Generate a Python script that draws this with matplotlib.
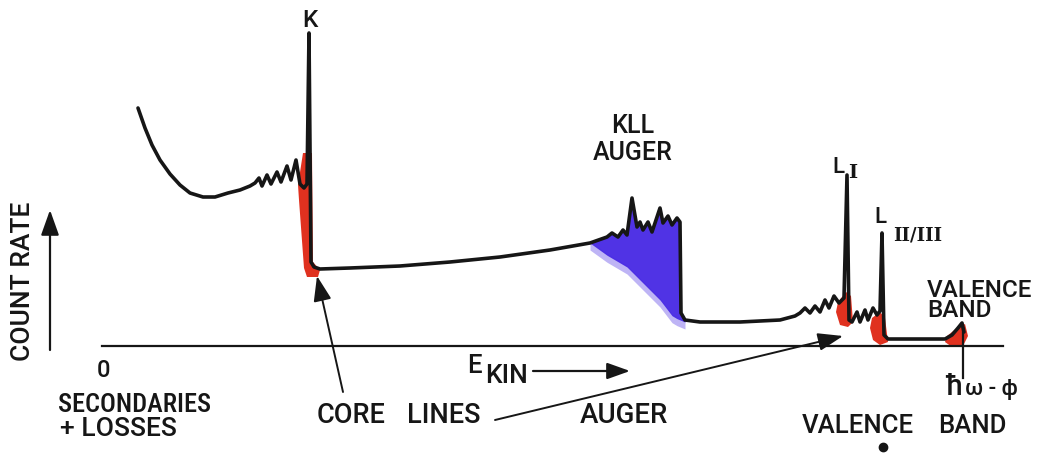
import numpy as np
import matplotlib
matplotlib.use("Agg")
import matplotlib.pyplot as plt
from matplotlib import font_manager

# Photoelectron spectrum sketch: kinetic energy vs. count rate (arbitrary units)
energy = [36, 43, 50, 58, 68, 78, 88, 101, 113, 126, 138, 148,
          153, 157, 160, 165, 169, 175, 179, 185, 189, 194, 198, 202, 205,
          207, 209, 212, 218,
          248, 298, 348, 398, 448, 488, 505, 510, 516, 521, 525, 530, 535,
          538, 541, 546, 550, 558, 561, 566, 570, 575, 578, 579, 583,
          598, 638, 678, 693,
          698, 703, 708, 713, 718, 723, 727, 732, 737, 742,
          745, 747, 750, 755, 758, 763, 766, 771, 775, 778,
          780, 782, 786, 843, 850, 856, 860, 862]
counts = [238, 218, 201, 186, 172, 161, 153, 149, 149, 153, 156, 160,
          163, 168, 160, 171, 162, 174, 164, 180, 166, 186, 162, 158, 162,
          313, 84, 79, 77,
          78, 80, 84, 89, 96, 103, 109, 113, 109, 116, 111, 148, 119,
          124, 116, 124, 114, 138, 123, 130, 121, 128, 124, 33, 26,
          24, 24, 26, 30,
          33, 38, 33, 40, 34, 46, 38, 50, 43, 48,
          171, 26, 24, 34, 24, 36, 26, 38, 31, 35,
          113, 11, 7, 7, 11, 18, 23, 14]

# Lower edge of the shaded KLL Auger band
auger_floor_e = [488, 491, 525, 545, 558, 571, 583]
auger_floor_c = [103, 99, 79, 59, 46, 29, 24]

# Highlighted core-line / valence regions (outline points, E and count rate)
core_k_e = [201, 210, 211, 218, 216, 205, 202, 197, 196]
core_k_c = [193, 193, 84, 76, 69, 69, 78, 146, 161]
core_l1_e = [736, 744, 749, 751, 746, 738, 734]
core_l1_c = [44, 54, 50, 24, 19, 21, 34]
core_l23_e = [770, 778, 783, 786, 778, 771, 768]
core_l23_c = [28, 34, 28, 4, 1, 6, 18]
valence_e = [845, 855, 863, 866, 861, 850, 843]
valence_c = [10, 18, 22, 10, 0, -1, 4]

# Photon-energy cutoff (h-bar omega minus work function)
cutoff_e = 861
axis_end_e = 901

ink = "#161616"
red = "#e0311f"
blue = "#4628e4"

names = {f.name for f in font_manager.fontManager.ttflist}


def pick(cands):
    for c in cands:
        if c in names:
            return c
    return "DejaVu Sans"


narrow = pick(["Roboto Condensed", "Liberation Sans Narrow", "DejaVu Sans"])
wide = pick(["Roboto", "DejaVu Sans"])
plt.rcParams["font.family"] = [wide, "DejaVu Sans"]

fig = plt.figure(figsize=(10.46, 4.53), dpi=100)
ax = fig.add_axes([0, 0, 1, 1])
ax.set_xlim(-102, 944)
ax.set_ylim(-107, 346)
ax.axis("off")

E = np.array(energy, dtype=float)
C = np.array(counts, dtype=float)

# KLL Auger shading between the spectrum and its lower edge
sel = (E >= auger_floor_e[0]) & (E <= auger_floor_e[-1])
floor = np.interp(E[sel], auger_floor_e, auger_floor_c)
ax.fill_between(E[sel], floor - 7, floor + 2, color=blue, alpha=0.35, lw=0,
                zorder=1)
ax.fill_between(E[sel], floor, C[sel], color=blue, alpha=0.95, lw=0, zorder=1)

# red highlights on the core lines and valence band
for xs, ys in [(core_k_e, core_k_c), (core_l1_e, core_l1_c),
               (core_l23_e, core_l23_c), (valence_e, valence_c)]:
    ax.fill(xs, ys, color=red, lw=0, zorder=2)

# spectrum trace
ax.plot(E, C, color=ink, lw=2.6, solid_joinstyle="round",
        solid_capstyle="round", zorder=3)

# energy axis and cutoff marker
ax.plot([0, axis_end_e], [0, 0], color=ink, lw=1.6, zorder=3)
ax.plot([cutoff_e, cutoff_e], [18, -32], color=ink, lw=1.6, zorder=3)

arrow_style = "-|>,head_length=0.7,head_width=0.25"
# count-rate arrow
ax.annotate("", xy=(-52, 136), xytext=(-52, -4),
            arrowprops=dict(arrowstyle=arrow_style, color=ink, lw=1.6,
                            mutation_scale=22, shrinkA=0, shrinkB=0))
# kinetic energy arrow
ax.annotate("", xy=(528, -25), xytext=(431, -25),
            arrowprops=dict(arrowstyle=arrow_style, color=ink, lw=1.6,
                            mutation_scale=20, shrinkA=0, shrinkB=0))
# core-line pointers
ax.annotate("", xy=(215, 70), xytext=(241, -46),
            arrowprops=dict(arrowstyle=arrow_style, color=ink, lw=1.4,
                            mutation_scale=22, shrinkA=0, shrinkB=0))
ax.annotate("", xy=(741, 10), xytext=(393, -74),
            arrowprops=dict(arrowstyle=arrow_style, color=ink, lw=1.4,
                            mutation_scale=22, shrinkA=0, shrinkB=0))

tw = dict(color=ink, family=[wide, "DejaVu Sans"], fontweight="medium")
tn = dict(color=ink, family=[narrow, "DejaVu Sans"], fontweight="medium")
serif = dict(color=ink, family="DejaVu Serif", fontweight="bold")

ax.text(-79, 65, "COUNT RATE", rotation=90, ha="center", va="center",
        fontsize=19, **tw)
ax.text(1, -31, "0", ha="center", va="baseline", fontsize=17, **tw)
ax.text(-44, -66, "SECONDARIES", ha="left", va="baseline", fontsize=19, **tn)
ax.text(-42, -90, "+ LOSSES", ha="left", va="baseline", fontsize=19, **tw)
ax.text(215, -77, "CORE", ha="left", va="baseline", fontsize=19.5, **tw)
ax.text(305, -77, "LINES", ha="left", va="baseline", fontsize=19.5, **tw)
ax.text(478, -77, "AUGER", ha="left", va="baseline", fontsize=20, **tw)
ax.text(365, -27, "E", ha="left", va="baseline", fontsize=18.5, **tw)
ax.text(383, -37, "KIN", ha="left", va="baseline", fontsize=19, **tw)
ax.text(700, -87, "VALENCE", ha="left", va="baseline", fontsize=18.5, **tw)
ax.text(836, -87, "BAND", ha="left", va="baseline", fontsize=18.5, **tw)
ax.plot([781], [-101], "o", color=ink, ms=6)
ax.text(843, -49, "ħ", ha="left", va="baseline", fontsize=21, **tw)
ax.text(863, -49, "ω - ϕ", ha="left", va="baseline", fontsize=16, **tw)

ax.text(208, 319, "K", ha="center", va="baseline", fontsize=17.5, **tw)
ax.text(531, 213, "KLL", ha="center", va="baseline", fontsize=18, **tw)
ax.text(531, 186, "AUGER", ha="center", va="baseline", fontsize=18, **tw)
ax.text(730, 173, "L", ha="left", va="baseline", fontsize=16, **tw)
ax.text(746, 168, "I", ha="left", va="baseline", fontsize=14, **serif)
ax.text(772, 123, "L", ha="left", va="baseline", fontsize=16, **tw)
ax.text(791, 106, "II/III", ha="left", va="baseline", fontsize=13, **serif)
ax.text(825, 29, "VALENCE\nBAND", ha="left", va="baseline", fontsize=17.5,
        linespacing=0.85, **tw)

fig.savefig("out.png", dpi=100, facecolor="white")
